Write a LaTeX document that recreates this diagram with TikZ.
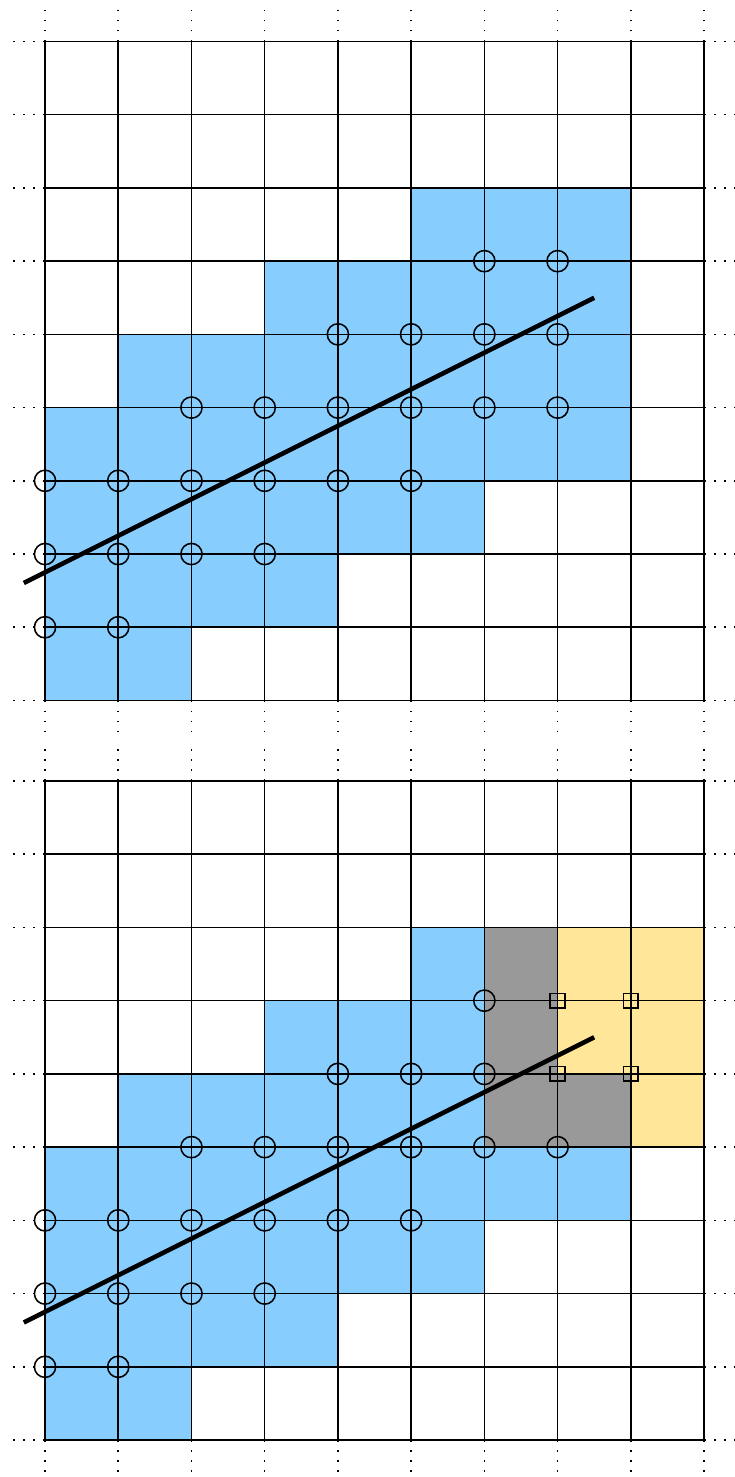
\documentclass[tikz,border=0pt]{standalone}
\definecolor{cellblue}{RGB}{135,206,255}
\definecolor{cellgray}{RGB}{153,153,153}
\definecolor{cellyellow}{RGB}{255,230,153}
\tikzset{
  gridline/.style={line width=0.6pt},
  stub/.style={line width=0.6pt, dash pattern=on 0.6pt off 3.3pt},
  probe/.style={circle, draw, line width=0.6pt, minimum size=0.29cm, inner sep=0pt},
  sqprobe/.style={rectangle, draw, line width=0.6pt, minimum size=0.2cm, inner sep=0pt},
  fitline/.style={line width=1.8pt},
  stubs/.pic={
    \foreach \i in {0,...,9} {
      \draw[stub] (\i,9) -- (\i,9.5);
      \draw[stub] (\i,0) -- (\i,-0.5);
      \draw[stub] (0,\i) -- (-0.5,\i);
      \draw[stub] (9,\i) -- (9.5,\i);
    }
  }
}
\begin{document}
\begin{tikzpicture}
\useasboundingbox (-0.615,-0.505) rectangle (9.41,19.667);
% ---------------- top grid ----------------
\begin{scope}[yshift=10.1cm]
  \fill[cellblue] (5,6) rectangle (8,7) (3,5) rectangle (8,6) (1,4) rectangle (8,5)
    (0,3) rectangle (8,4) (0,2) rectangle (6,3) (0,1) rectangle (4,2) (0,0) rectangle (2,1);
  \draw[gridline] (0,0) grid (9,9);
  \pic {stubs};
  \foreach \x/\y in {6/6,7/6, 4/5,5/5,6/5,7/5, 2/4,3/4,4/4,5/4,6/4,7/4,
                     0/3,1/3,2/3,3/3,4/3,5/3, 0/2,1/2,2/2,3/2, 0/1,1/1}
    \node[probe] (t-\x-\y) at (\x,\y) {};
  \coordinate (tA) at (-0.29,1.605);
  \coordinate (tB) at (7.5,5.5);
  \draw[fitline] (tA) -- (tB);
\end{scope}
% ---------------- bottom grid ----------------
\begin{scope}
  \fill[cellblue] (5,6) rectangle (6,7) (3,5) rectangle (6,6) (1,4) rectangle (6,5)
    (0,3) rectangle (8,4) (0,2) rectangle (6,3) (0,1) rectangle (4,2) (0,0) rectangle (2,1);
  \fill[cellgray] (6,5) rectangle (7,7) (6,4) rectangle (8,5);
  \fill[cellyellow] (7,5) rectangle (9,7) (8,4) rectangle (9,5);
  \draw[gridline] (0,0) grid (9,9);
  \pic {stubs};
  \foreach \x/\y in {6/6, 4/5,5/5,6/5, 2/4,3/4,4/4,5/4,6/4,7/4,
                     0/3,1/3,2/3,3/3,4/3,5/3, 0/2,1/2,2/2,3/2, 0/1,1/1}
    \node[probe] (b-\x-\y) at (\x,\y) {};
  \foreach \x/\y in {7/6,8/6,7/5,8/5}
    \node[sqprobe] (s-\x-\y) at (\x,\y) {};
  \coordinate (bA) at (-0.29,1.605);
  \coordinate (bB) at (7.5,5.5);
  \draw[fitline] (bA) -- (bB);
\end{scope}
\end{tikzpicture}
\end{document}
